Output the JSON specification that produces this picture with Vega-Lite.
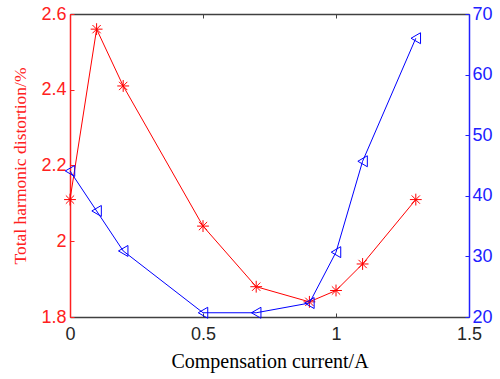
{
  "$schema": "https://vega.github.io/schema/vega-lite/v6.json",
  "width": 399,
  "height": 303,
  "autosize": "none",
  "padding": {"left": 70, "top": 14, "right": 31, "bottom": 62},
  "background": "white",
  "config": {
    "view": {"stroke": null},
    "axis": {"grid": false, "labelFont": "Liberation Sans", "labelFontSize": 18, "titleFont": "Liberation Serif", "titleFontSize": 20, "titleFontWeight": "normal", "tickSize": -4}
  },
  "data": {"values": [
    {"current": 0, "thd": 2.11, "other": 44.1},
    {"current": 0.1, "thd": 2.56, "other": 37.5},
    {"current": 0.2, "thd": 2.41, "other": 30.9},
    {"current": 0.5, "thd": 2.04, "other": 20.7},
    {"current": 0.7, "thd": 1.88, "other": 20.7},
    {"current": 0.9, "thd": 1.84, "other": 22.3},
    {"current": 1.0, "thd": 1.87, "other": 30.7},
    {"current": 1.1, "thd": 1.94, "other": 45.7},
    {"current": 1.3, "thd": 2.11, "other": 66.0}
  ]},
  "layer": [
    {
      "encoding": {
        "x": {"field": "current", "type": "quantitative", "scale": {"domain": [0, 1.5], "nice": false},
          "axis": {"orient": "bottom", "values": [0, 0.5, 1, 1.5], "labelExpr": "datum.value", "title": "Compensation current/A", "domainColor": "#404040", "domainWidth": 1.5, "tickColor": "#404040", "labelColor": "#262626", "titleColor": "#000000", "labelPadding": 12, "titlePadding": 8, "labelFlush": false}},
        "y": {"field": "thd", "type": "quantitative", "scale": {"domain": [1.8, 2.6], "nice": false, "zero": false},
          "axis": {"orient": "left", "values": [1.8, 2, 2.2, 2.4, 2.6], "labelExpr": "datum.value", "title": "Total harmonic distortion/%", "titleFontSize": 17.5, "domainColor": "#ff2020", "domainWidth": 1.5, "tickColor": "#ff2020", "labelColor": "#ff2020", "titleColor": "#ff2020", "labelPadding": 8, "titlePadding": 11, "labelFlush": false}}
      },
      "layer": [
        {"mark": {"type": "line", "color": "#ff0000", "strokeWidth": 1}},
        {"mark": {"type": "point", "shape": "M0,-1L0,1M-1,0L1,0M-0.7,-0.7L0.7,0.7M-0.7,0.7L0.7,-0.7", "filled": false, "color": "#ff0000", "size": 140, "strokeWidth": 1, "opacity": 1}}
      ]
    },
    {
      "encoding": {
        "x": {"field": "current", "type": "quantitative", "scale": {"domain": [0, 1.5], "nice": false},
          "axis": {"orient": "top", "values": [0, 0.5, 1, 1.5], "labels": false, "title": null, "domainColor": "#404040", "domainWidth": 1.5, "tickColor": "#404040"}},
        "y": {"field": "other", "type": "quantitative", "scale": {"domain": [20, 70], "nice": false, "zero": false},
          "axis": {"orient": "right", "values": [20, 30, 40, 50, 60, 70], "title": null, "domainColor": "#2020ff", "domainWidth": 1.5, "tickColor": "#2020ff", "labelColor": "#2020ff", "labelPadding": 7, "labelFlush": false}}
      },
      "layer": [
        {"mark": {"type": "line", "color": "#0000ff", "strokeWidth": 1}},
        {"mark": {"type": "point", "shape": "triangle-left", "filled": false, "color": "#0000ff", "size": 120, "strokeWidth": 1, "opacity": 1}}
      ]
    }
  ],
  "resolve": {"scale": {"y": "independent"}, "axis": {"x": "independent", "y": "independent"}}
}
